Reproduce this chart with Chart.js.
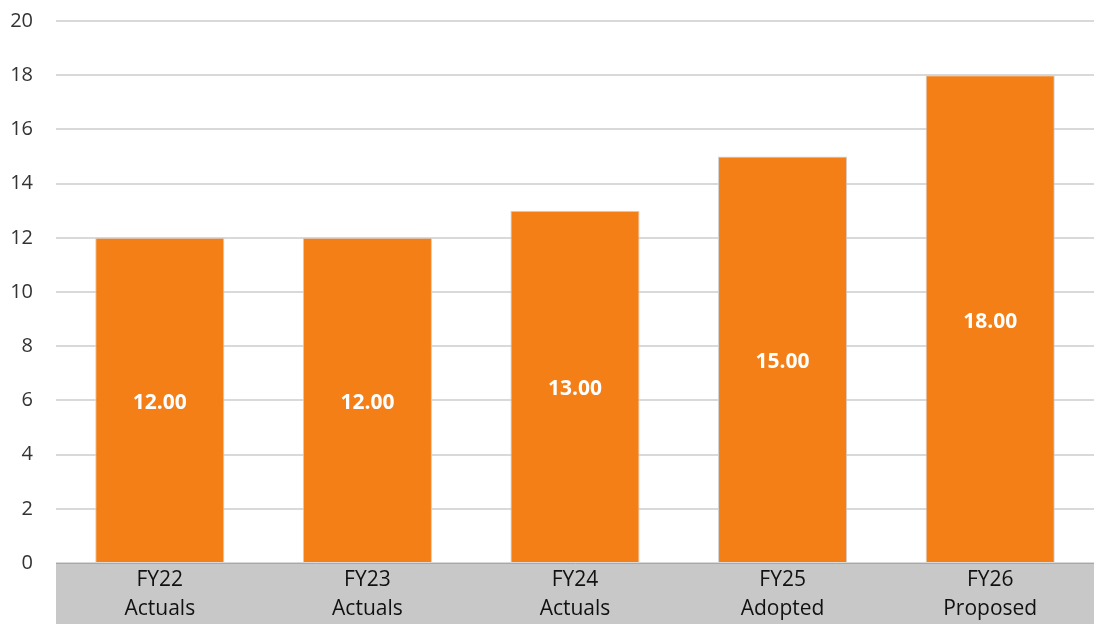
<!DOCTYPE html>
<html>
<head>
<meta charset="utf-8">
<script src="https://cdn.jsdelivr.net/npm/chart.js@4/dist/chart.umd.min.js"></script>
<style>
html,body{margin:0;padding:0;background:#fff;}
#wrap{width:1094px;height:624px;position:relative;}
</style>
</head>
<body>
<div id="wrap"><canvas id="c"></canvas></div>
<script>
const categories = [["FY22","Actuals"],["FY23","Actuals"],["FY24","Actuals"],["FY25","Adopted"],["FY26","Proposed"]];
const values = [12, 12, 13, 15, 18];
const yTicks = [0,2,4,6,8,10,12,14,16,18,20];

const bandPlugin = {
  id: 'band',
  beforeDraw(chart) {
    const {ctx, chartArea} = chart;
    ctx.save();
    ctx.fillStyle = '#c8c8c8';
    ctx.fillRect(chartArea.left, chartArea.bottom, chart.width - chartArea.left, chart.height - chartArea.bottom);
    ctx.restore();
  }
};

const labelPlugin = {
  id: 'valLabels',
  afterDatasetsDraw(chart) {
    const {ctx} = chart;
    const meta = chart.getDatasetMeta(0);
    ctx.save();
    ctx.fillStyle = '#ffffff';
    ctx.font = 'bold 21px "Open Sans"';
    ctx.textAlign = 'center';
    ctx.textBaseline = 'middle';
    meta.data.forEach((bar, i) => {
      const y = (bar.y + bar.base) / 2 + 3;
      ctx.fillText(values[i].toFixed(2), bar.x, y);
    });
    ctx.restore();
  }
};

new Chart(document.getElementById('c'), {
  type: 'bar',
  data: {
    labels: categories,
    datasets: [{
      data: values,
      backgroundColor: '#f37f16',
      borderColor: '#d0d0d0',
      borderWidth: 1,
      barPercentage: 0.622,
      categoryPercentage: 1.0
    }]
  },
  options: {
    responsive: true,
    maintainAspectRatio: false,
    animation: false,
    layout: { padding: { top: 21, right: 0, bottom: 0, left: 0 } },
    plugins: { legend: { display: false }, tooltip: { enabled: false } },
    scales: {
      x: {
        grid: { display: false, drawTicks: false },
        border: { display: true, color: '#a8a8a8', width: 1 },
        ticks: {
          color: '#111111',
          font: { family: 'Open Sans', size: 21, lineHeight: 1.35 },
          padding: 3,
          maxRotation: 0,
          autoSkip: false
        },
        afterFit(scale) { scale.height = 61; }
      },
      y: {
        min: 0, max: 20,
        afterBuildTicks(scale) { scale.ticks = yTicks.map(v => ({value: v})); },
        grid: { color: '#d9d9d9', lineWidth: 2, drawTicks: false },
        border: { display: false },
        ticks: {
          color: '#333333',
          font: { family: 'Open Sans', size: 20 },
          padding: 23
        },
        afterFit(scale) { scale.width = 56; scale.paddingTop = 0; scale.paddingBottom = 0; }
      }
    }
  },
  plugins: [bandPlugin, labelPlugin]
});
</script>
</body>
</html>
